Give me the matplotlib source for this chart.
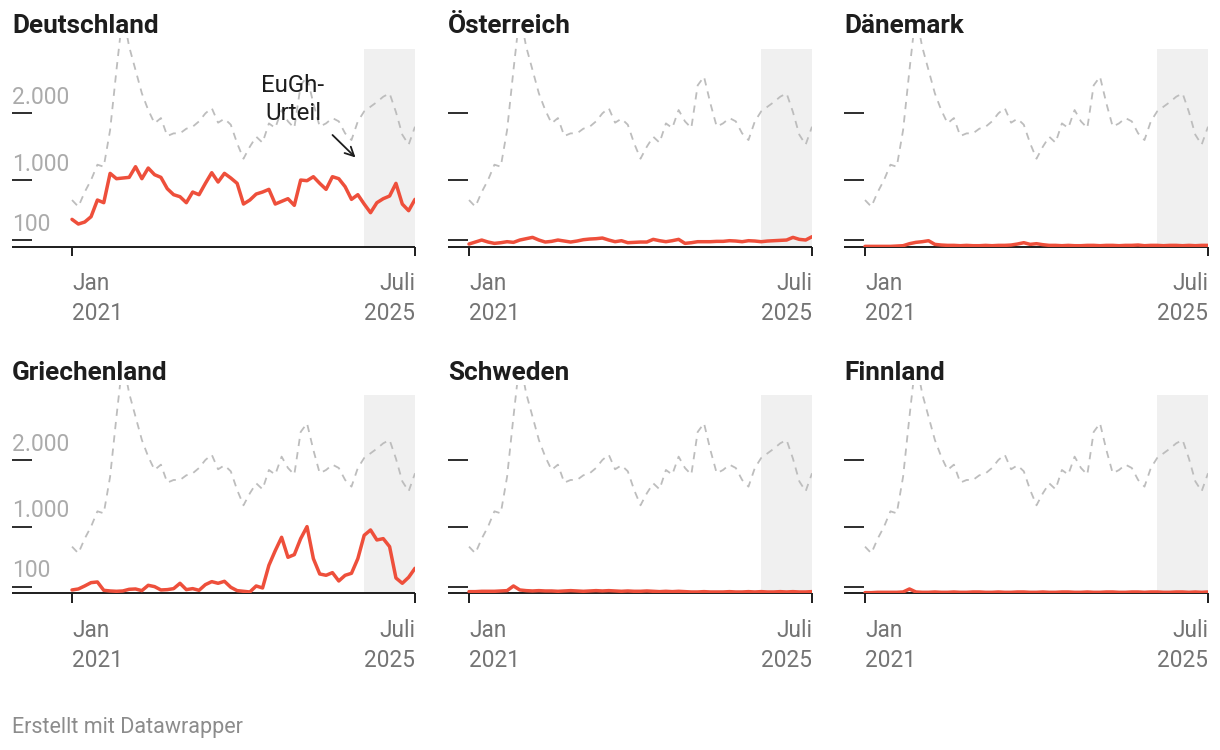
import matplotlib
matplotlib.use("Agg")
import matplotlib.pyplot as plt
import numpy as np
import pandas as pd

plt.rcParams["font.family"] = ["Roboto", "DejaVu Sans"]

# ---------- data (monthly, Jan 2021 - Jul 2025) ----------
months = pd.period_range("2021-01", "2025-07", freq="M")

eu_total = [700, 600, 820, 1000, 1230, 1200, 1750, 2650, 3500, 3000,
            2650, 2300, 2050, 1850, 1930, 1660, 1700, 1700, 1770, 1800,
            1880, 2000, 2080, 1860, 1920, 1830, 1550, 1320, 1500, 1650,
            1560, 1850, 1780, 2050, 1880, 1780, 2420, 2550, 2150, 1800,
            1850, 1930, 1880, 1700, 1600, 1880, 2030, 2100, 2170, 2250,
            2300, 2020, 1680, 1530, 1800]

deutschland = [410, 340, 370, 450, 700, 660, 1100, 1020, 1030, 1040,
               1200, 1020, 1180, 1080, 1040, 870, 780, 750, 660, 820,
               780, 950, 1110, 970, 1100, 1030, 950, 640, 700, 790,
               820, 860, 640, 680, 720, 620, 1000, 990, 1050, 950,
               860, 1050, 1020, 900, 710, 780, 640, 510, 660, 720,
               760, 950, 640, 540, 710]

oesterreich = [40, 70, 100, 70, 50, 60, 75, 65, 100, 120,
               140, 100, 70, 80, 100, 85, 70, 85, 105, 115,
               120, 130, 100, 75, 90, 60, 65, 70, 70, 110,
               90, 75, 90, 110, 50, 60, 75, 75, 75, 80,
               80, 90, 85, 75, 90, 85, 75, 85, 90, 95,
               100, 140, 110, 100, 150]

daenemark = [5, 5, 5, 5, 5, 10, 15, 45, 65, 75,
             90, 35, 25, 20, 20, 15, 20, 15, 15, 20,
             15, 20, 20, 25, 40, 60, 35, 45, 30, 20,
             20, 15, 20, 15, 15, 20, 20, 15, 20, 20,
             15, 20, 20, 25, 15, 20, 20, 15, 20, 20,
             15, 20, 15, 20, 20]

griechenland = [50, 65, 110, 160, 170, 45, 35, 30, 35, 60,
                65, 40, 120, 100, 50, 55, 70, 150, 55, 70,
                45, 130, 175, 150, 180, 90, 40, 30, 20, 110,
                80, 420, 640, 840, 540, 580, 820, 1000, 520, 290,
                270, 310, 185, 270, 300, 520, 870, 950, 800, 820,
                700, 230, 150, 240, 375]

schweden = [25, 25, 30, 30, 30, 35, 40, 110, 50, 40,
            35, 40, 35, 35, 30, 35, 40, 35, 30, 35,
            40, 35, 40, 35, 30, 35, 30, 30, 35, 30,
            25, 30, 25, 30, 25, 20, 20, 25, 20, 20,
            20, 25, 20, 20, 25, 20, 25, 20, 20, 25,
            20, 25, 20, 20, 25]

finnland = [10, 10, 15, 15, 15, 15, 20, 65, 20, 15,
            15, 20, 15, 15, 20, 15, 15, 20, 20, 15,
            15, 20, 15, 15, 20, 20, 15, 15, 20, 15,
            15, 20, 20, 15, 15, 20, 15, 15, 20, 20,
            15, 15, 20, 20, 15, 20, 20, 15, 15, 20,
            20, 15, 20, 15, 20]

countries = ["Deutschland", "Österreich", "Dänemark",
             "Griechenland", "Schweden", "Finnland"]
series = [deutschland, oesterreich, daenemark,
          griechenland, schweden, finnland]

y_ticks = [100, 1000, 2000]
y_tick_labels = ["100", "1.000", "2.000"]
shade_start, shade_end = 46, 54   # Nov 2024 - Jul 2025

# ---------- layout (pixels) ----------
W, H = 1220, 750
PX_PER_MONTH = 343 / 54
PX_PER_UNIT = 66.67 / 1000
col_left = [12, 448, 844]        # left edge of axis line
col_jan = [72, 469, 865]         # x of Jan 2021
row_base = [246.7, 593.3]        # y of zero line
top_clip = 208.7                 # px from zero line to top of axes
ymax = top_clip / PX_PER_UNIT
shade_top = 2970

RED = "#ee4f3b"
GREY = "#bdbdbd"
INK = "#1d1d1d"


def val_at(py):
    # pixel row in the first panel -> data value
    return (246.7 - py) / PX_PER_UNIT


def month_at(px):
    return (px - 72) / PX_PER_MONTH


fig = plt.figure(figsize=(W / 100, H / 100), dpi=100)
x = np.arange(len(months))

for k, (name, vals) in enumerate(zip(countries, series)):
    r, c = divmod(k, 3)
    left_px = col_left[c]
    right_px = col_jan[c] + 54 * PX_PER_MONTH
    base = row_base[r]
    ax = fig.add_axes([left_px / W, (H - base) / H,
                       (right_px - left_px) / W, top_clip / H])
    xmin = -(col_jan[c] - left_px) / PX_PER_MONTH
    ax.set_xlim(xmin, 54)
    ax.set_ylim(0, ymax)
    ax.axis("off")

    ax.axvspan(shade_start, shade_end, ymin=0, ymax=shade_top / ymax,
               color="#f0f0f0", lw=0, zorder=0)
    ax.plot(x, eu_total, color=GREY, lw=1.3, dashes=(4.0, 3.4), zorder=2,
            solid_joinstyle="round")

    # baseline and ticks
    ax.plot([xmin, 54], [0, 0], color=INK, lw=1.4, zorder=3,
            solid_capstyle="butt", clip_on=False)
    tick_len = 20 / PX_PER_MONTH
    for yt in y_ticks:
        ax.plot([xmin, xmin + tick_len], [yt, yt], color=INK, lw=1.3,
                solid_capstyle="butt", zorder=3)
    for xt in (0, 54):
        ax.plot([xt, xt], [0, -9.5 / PX_PER_UNIT], color=INK, lw=1.4,
                solid_capstyle="butt", clip_on=False, zorder=3)

    ax.plot(x, vals, color=RED, lw=2.5, zorder=4,
            solid_joinstyle="round", solid_capstyle="round")

    if c == 0:
        for yt, lab in zip(y_ticks, y_tick_labels):
            ax.annotate(lab, (xmin, yt), xytext=(0, 6.8), textcoords="offset points",
                        ha="left", va="baseline", fontsize=16.5, color="#ababab")

    for xt, top, bot, ha in [(0, "Jan", "2021", "left"), (54, "Juli", "2025", "right")]:
        ax.annotate(top, (xt, 0), xytext=(0, -31.2), textcoords="offset points",
                    ha=ha, va="baseline", fontsize=16.3, color="#747474",
                    annotation_clip=False)
        ax.annotate(bot, (xt, 0), xytext=(0, -52.8), textcoords="offset points",
                    ha=ha, va="baseline", fontsize=16.3, color="#747474",
                    annotation_clip=False)

    fig.text(left_px / W, 1 - (base - 213.5) / H, name, ha="left", va="baseline",
             fontsize=18.8, fontweight="bold", color=INK)

    if k == 0:
        ax.text(month_at(293), val_at(91.7), "EuGh-", ha="center", va="baseline",
                fontsize=17.3, color=INK, zorder=5)
        ax.text(month_at(293), val_at(120), "Urteil", ha="center", va="baseline",
                fontsize=17.3, color=INK, zorder=5)
        ax.annotate("", xy=(month_at(355.5), val_at(157.5)),
                    xytext=(month_at(332.5), val_at(135)),
                    arrowprops=dict(arrowstyle="->", color=INK, lw=1.3,
                                    mutation_scale=16, shrinkA=0, shrinkB=0))

fig.text(12 / W, 1 - 733 / H, "Erstellt mit Datawrapper", ha="left", va="baseline",
         fontsize=15.5, color="#8c8c8c")

fig.savefig("out.png", dpi=100)
